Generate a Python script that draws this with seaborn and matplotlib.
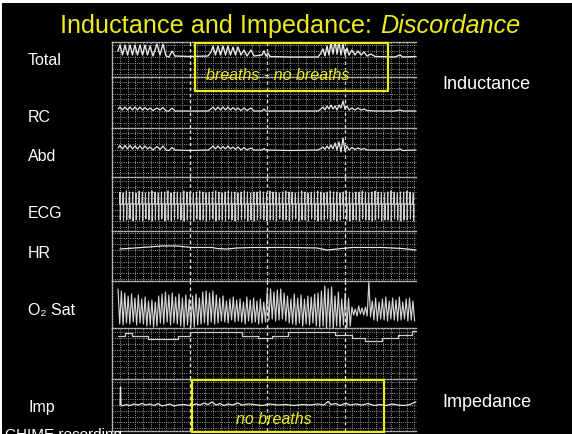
import numpy as np
import pandas as pd
import matplotlib
matplotlib.use("Agg")
import matplotlib.pyplot as plt
from matplotlib.patches import Rectangle
from matplotlib.ticker import MultipleLocator, FixedLocator, NullLocator
import seaborn as sns

# ---------------- data (time in samples, amplitude in trace units) ----------------
total_t = [6, 8, 10.5, 13, 15.5, 18, 20.5, 23, 25.5, 28, 30.5, 33, 35.5, 38, 41, 45, 48, 51, 54, 57, 60, 63, 78, 96,
           99, 101, 103.5, 106, 108.5, 111, 113.5, 116, 118.5, 121, 123.5, 126, 129, 132, 135, 139, 142, 150, 152, 154,
           156, 158, 178, 206, 209, 211, 213, 215, 217, 219, 221, 223, 225, 227, 229, 231, 233, 235, 237, 240, 243,
           246, 249, 252, 255, 259, 263, 283, 288, 291, 304]
total_v = [6, 12, 2, 12, 2, 12, 2, 12, 2, 12, 2, 12, 2, 11, 1, 13, 2, 13, 1, 0, 6, 1, 0.5, 1,
           5, 11, 2, 11, 2, 11, 2, 11, 2, 10, 2, 10, 2, 7, 1, 7, 1, 2, 6, 1,
           4, 0.5, 0, 0, 4, 8, 1, 11, 2, 14, 3, 16, 3, 15, 2, 13, 2, 9, 2, 7, 2,
           6, 2, 5, 1, 3, 0.5, 0, 2, 0, 0.5]

rc_t = [6, 8, 10.5, 13, 15.5, 18, 20.5, 23, 25.5, 28, 30.5, 33, 35.5, 38, 41, 45, 48, 51, 54, 57, 60, 63, 78, 96,
        99, 101, 103.5, 106, 108.5, 111, 113.5, 116, 118.5, 121, 123.5, 126, 129, 132, 135, 139, 142, 150, 152, 154,
        158, 178, 206, 209, 211, 213, 215, 217, 219, 221, 223, 225, 227, 229, 231, 233, 235, 237, 240, 243, 246,
        249, 252, 255, 263, 283, 288, 291, 304]
rc_v = [2, 4, 1, 4, 1, 4, 1, 4, 1, 4, 1, 3.5, 1, 3, 0.5, 3, 1, 3.5, 0, 0, 3, 0, 0, 0,
        2, 4, 1, 4, 1, 4, 1, 4, 1, 3.5, 1, 3, 0.5, 3, 0.5, 3, 0, 0, 2, 0,
        0, 0, 0, 2, 4, 1, 5, 2, 6, 2, 5, 1, 6, 3, 10, 2, 5, 1, 3, 1, 3,
        1, 2, 0.5, 0, 0, 1, 0, 0]

abd_t = [6, 8, 10.5, 13, 15.5, 18, 20.5, 23, 25.5, 28, 30.5, 33, 35.5, 38, 41, 45, 48, 51, 54, 57, 60, 63, 78, 96,
         99, 101, 103.5, 106, 108.5, 111, 113.5, 116, 118.5, 121, 123.5, 126, 129, 132, 135, 139, 142, 150, 152, 154,
         178, 206, 209, 211, 213, 215, 217, 219, 221, 223, 225, 227, 229, 231, 233, 235, 237, 240, 243, 246, 249,
         252, 255, 263, 283, 288, 291, 304]
abd_v = [2, 4.5, 1, 4.5, 1, 4.5, 1, 4, 1, 4, 1, 4, 1, 3, 0, 3.5, 0.5, 4, 0, -0.5, 2.5, 0, -0.5, 0,
         2, 4, 1, 4, 1, 3.5, 1, 4, 1, 3, 0.5, 3, 0, 2.5, 0, 2, 0, 0, 1.5, 0,
         -0.5, 0, 1.5, 3, 0.5, 4, 1, 5, 1, 7, 0, 8, -2, 12, -1, 4, 0, 2.5, 0.5, 2, 0.5,
         1.5, 0, 0, 0, 1, -0.5, 0]

ecg_beats = [8, 11.2, 14.4, 17.6, 20.8, 24, 27.2, 30.4, 33.5, 36.7, 39.9, 43.1, 46.3, 49.5, 52.7, 55.9, 59, 62.2,
             65.4, 68.6, 71.8, 75, 78.2, 81.4, 84.5, 87.7, 90.9, 94.1, 97.3, 100.5, 103.7, 106.9, 110, 113.2, 116.4,
             119.6, 122.8, 126, 129.2, 132.4, 135.5, 138.7, 141.9, 145.1, 148.3, 151.5, 154.7, 157.9, 161, 164.2,
             167.4, 170.6, 173.8, 177, 180.2, 183.4, 186.5, 189.7, 192.9, 196.1, 199.3, 202.5, 205.7, 208.9, 212,
             215.2, 218.4, 221.6, 224.8, 228, 231.2, 234.4, 237.5, 240.7, 243.9, 247.1, 250.3, 253.5, 256.7, 259.9,
             263, 266.2, 269.4, 272.6, 275.8, 279, 282.2, 285.4, 288.5, 291.7, 294.9, 298.1, 301.3]
ecg_r = [12, 11, 13, 12, 12, 11, 13, 12, 11, 12, 13, 12, 11, 12, 12, 13, 11, 12, 12, 11, 13, 12, 12, 11, 12, 13,
         12, 11, 12, 12, 13, 12, 11, 12, 13, 12, 12, 11, 12, 13, 12, 11, 12, 12, 13, 12, 11, 13, 12, 12, 11, 12,
         13, 12, 12, 11, 12, 13, 12, 11, 12, 12, 13, 12, 11, 12, 13, 12, 12, 11, 12, 13, 12, 11, 12, 12, 13, 12,
         11, 12, 13, 12, 12, 11, 12, 13, 12, 11, 12, 12, 13, 12, 11]
ecg_s = [16, 17, 16, 15, 17, 16, 16, 17, 15, 16, 17, 16, 16, 15, 17, 16, 17, 16, 15, 16, 17, 16, 16, 17, 15, 16,
         16, 17, 16, 15, 17, 16, 16, 17, 15, 16, 17, 16, 16, 15, 17, 16, 17, 16, 15, 16, 17, 16, 16, 17, 15, 16,
         16, 17, 16, 15, 17, 16, 16, 17, 15, 16, 17, 16, 16, 15, 17, 16, 17, 16, 15, 16, 17, 16, 16, 17, 15, 16,
         16, 17, 16, 15, 17, 16, 16, 17, 15, 16, 17, 16, 16, 15, 17]

hr_t = [8, 30, 50, 65, 80, 100, 105, 115, 125, 140, 180, 205, 215, 225, 240, 270, 290, 300, 304]
hr_v = [1, 2.5, 4, 4, 2.5, 2.5, 1.5, 1, 2, 2.5, 2.5, 2, 0, 1, 2.5, 2.5, 1.5, 0.5, 0]

pleth_peaks = [40, 38, 36,
               33, 35, 31, 34, 30, 32,
               28, 29, 27,
               33, 35, 37, 34, 36, 32,
               35, 31, 34, 30, 33, 35, 31,
               37, 38, 36, 38, 34,
               31, 33, 28, 30, 32, 29,
               30, 27, 32, 29, 31, 28, 30, 27,
               38, 40, 37, 39, 40, 36,
               33, 30, 35, 31, 34, 30, 33, 32, 35,
               36, 38, 43, 40, 42,
               33, 37, 30, 36, 31,
               22, 20, 23, 21, 22,
               47,
               28, 31, 27, 30, 32, 28, 31, 29, 32, 27, 30, 31, 28]
pleth_troughs = [5, 4, 6, 5, 7, 4, 6, 5, 3, 4, 2, 3,
                 6, 5, 7, 4, 6, 5, 3, 2, 4, 3, 2, 4,
                 5, 6, 4, 7, 5, 6, 8, 7, 6, 9, 7, 8,
                 7, 5, 8, 6, 7, 5, 6, 7, 9, 10, 8, 9,
                 10, 8, 6, 5, 4, 6, 3, 5, 4, 6, 3, 2,
                 3, 1, 2, 0, 3, 2, 4, 1, 3,
                 14, 13, 15, 14, 13, 12,
                 9, 8, 10, 9, 8, 10, 9, 8, 9, 10, 8, 9, 8]
pleth_t0, pleth_dt = 6, 3.39

step_t = [6, 13, 20, 36, 66, 78, 130, 146, 160, 176, 223, 240, 253, 270, 286, 300, 304]
step_v = [8, 11, 8.5, 5, 8.5, 12, 8.5, 6.5, 8.5, 12, 9.5, 6, 3.5, 6, 9, 13, 13]

imp_t = [8, 8.5, 9, 10, 14, 18, 22, 26, 30, 34, 38, 42, 46, 50, 54, 58, 62, 66, 72, 78, 84, 88, 92, 96, 100, 104,
         108, 112, 116, 120, 126, 130, 136, 142, 150, 158, 166, 174, 182, 190, 198, 206, 212, 216, 219, 224, 228,
         234, 238, 244, 250, 256, 262, 268, 274, 280, 286, 292, 298, 301, 304]
imp_v = [0, 18, 1, -1, 0.5, -0.5, 1, 0, 1.5, 0, 1, -0.5, 1.5, -1, 0, 1, -1, 0, 0.5, -0.5, 1, 0, 2, 0.5, 3, 0,
         1.5, -0.5, 1, 0, 2, 0, 1, 0.5, -0.5, 1, 0, 0.5, -0.5, 0.5, 0, 1, 0, 3.5, 0.5, 1.5, -0.5,
         2, 0, 1, 0, 1.5, -0.5, 0.5, -0.5, 1, 0, -0.5, 0.5, 2, 3]

left_labels = ["Total", "RC", "Abd", "ECG", "HR", "O\u2082 Sat", "Imp"]
title_plain = "Inductance and Impedance:"
title_italic = "Discordance"

# ---------------- style ----------------
sns.set_theme(style="dark", rc={"axes.facecolor": "black", "figure.facecolor": "black"})
plt.rcParams["font.family"] = ["Liberation Sans", "DejaVu Sans"]

W, H = 572, 435
fig = plt.figure(figsize=(W / 100, H / 100), dpi=100)
fig.patch.set_facecolor("black")

GX0, GX1 = 112, 417
TRACE = "#e6e6e6"
YEL = "#ecec1c"
SEP = "#bdbdbd"


def add_panel(top, bottom, base, grid=True, last=False):
    ax = fig.add_axes([GX0 / W, 1 - bottom / H, (GX1 - GX0) / W, (bottom - top) / H])
    ax.set_facecolor("black")
    ax.set_xlim(0, GX1 - GX0)
    ax.set_ylim(base - bottom, base - top)
    ax.xaxis.set_major_locator(FixedLocator([77.5, 155, 232.5]))
    ax.xaxis.set_minor_locator(MultipleLocator(7.75))
    ax.yaxis.set_major_locator(NullLocator())
    ax.yaxis.set_minor_locator(MultipleLocator(5.8))
    if grid:
        ax.grid(which="minor", axis="both", color="#9a9a9a", lw=0.7, ls=(0, (1, 1.3)))
    ax.grid(which="major", axis="x", color="#e0e0e0", lw=1.0, ls=(0, (2.5, 2)))
    ax.tick_params(which="both", length=0, labelbottom=False, labelleft=False)
    for s in ["right", "bottom"]:
        ax.spines[s].set_visible(False)
    for s in ["top", "left"]:
        ax.spines[s].set_visible(True)
        ax.spines[s].set_color(SEP)
        ax.spines[s].set_linewidth(1.0)
        ax.spines[s].set_linestyle((0, (1, 1.2)))
    if last:
        ax.spines["bottom"].set_visible(True)
        ax.spines["bottom"].set_color(SEP)
        ax.spines["bottom"].set_linewidth(1.0)
        ax.spines["bottom"].set_linestyle((0, (1, 1.2)))
    ax.set_xlabel("")
    ax.set_ylabel("")
    return ax


def trace(ax, t, v, lw=1.0, color=TRACE, **kw):
    df = pd.DataFrame({"t": t, "v": v})
    sns.lineplot(data=df, x="t", y="v", ax=ax, color=color, lw=lw, estimator=None, sort=False, **kw)
    ax.set_xlabel("")
    ax.set_ylabel("")


ax_total = add_panel(43, 78, 58)
trace(ax_total, total_t, total_v, lw=1.0)

ax_rc = add_panel(78, 129, 112)
trace(ax_rc, rc_t, rc_v, lw=0.9)

ax_abd = add_panel(129, 178, 151)
trace(ax_abd, abd_t, abd_v, lw=0.9)

ax_ecg = add_panel(178, 232, 205)
ecg_x, ecg_y = [], []
for b, r, s in zip(ecg_beats, ecg_r, ecg_s):
    ecg_x += [b - 0.5, b, b + 0.3, b + 0.7]
    ecg_y += [0, r, -s, 0]
trace(ax_ecg, ecg_x, ecg_y, lw=0.8, color="#cfcfcf")

ax_hr = add_panel(232, 282, 251)
trace(ax_hr, hr_t, hr_v, lw=0.9)

ax_pl = add_panel(282, 329, 330, grid=False)
pl_x, pl_y = [], []
for i, (p, q) in enumerate(zip(pleth_peaks, pleth_troughs)):
    pl_x += [pleth_t0 + pleth_dt * i, pleth_t0 + pleth_dt * (i + 0.5)]
    pl_y += [p, q]
trace(ax_pl, pl_x, pl_y, lw=0.85, color="#d4d4d4")
for ln in ax_pl.lines:
    ln.set_clip_on(False)

ax_step = add_panel(329, 380, 345)
trace(ax_step, step_t, step_v, lw=0.9, color="#cfcfcf", drawstyle="steps-post")

ax_imp = add_panel(380, 432, 406, last=True)
trace(ax_imp, imp_t, imp_v, lw=0.9)

# ---------------- overlay: text and boxes ----------------
ov = fig.add_axes([0, 0, 1, 1])
ov.set_xlim(0, W)
ov.set_ylim(H, 0)
ov.axis("off")
ov.set_zorder(10)
ov.patch.set_alpha(0)

ov.add_patch(Rectangle((0, 0), W, 4, color="white", lw=0))
ov.add_patch(Rectangle((0, 0), 1.5, H, color="white", lw=0))

ov.text(372, 33, title_plain, ha="right", va="baseline", fontsize=18.2, color=YEL)
ov.text(380, 33, title_italic, ha="left", va="baseline", fontsize=18.2, color=YEL, style="italic")

for lab, yb in zip(left_labels, [65, 122, 161, 218, 258, 315, 412]):
    ov.text(28, yb, lab, ha="left", va="baseline", fontsize=11.5, color="white")

ov.text(442, 89, "Inductance", ha="left", va="baseline", fontsize=13, color="white")
ov.text(442, 407, "Impedance", ha="left", va="baseline", fontsize=13, color="white")
ov.text(5, 439, "CHIME recording", ha="left", va="baseline", fontsize=11, color="white")

ov.add_patch(Rectangle((195, 43.5), 193, 48.5, fill=False, ec=YEL, lw=1.6))
ov.add_patch(Rectangle((192, 380.5), 192, 52, fill=False, ec=YEL, lw=1.6))
ov.text(278, 80, "breaths - no breaths", ha="center", va="baseline", fontsize=11.5, color=YEL, style="italic")
ov.text(274, 424, "no breaths", ha="center", va="baseline", fontsize=11.5, color=YEL, style="italic")

fig.savefig("out.png", dpi=100, facecolor=fig.get_facecolor())
